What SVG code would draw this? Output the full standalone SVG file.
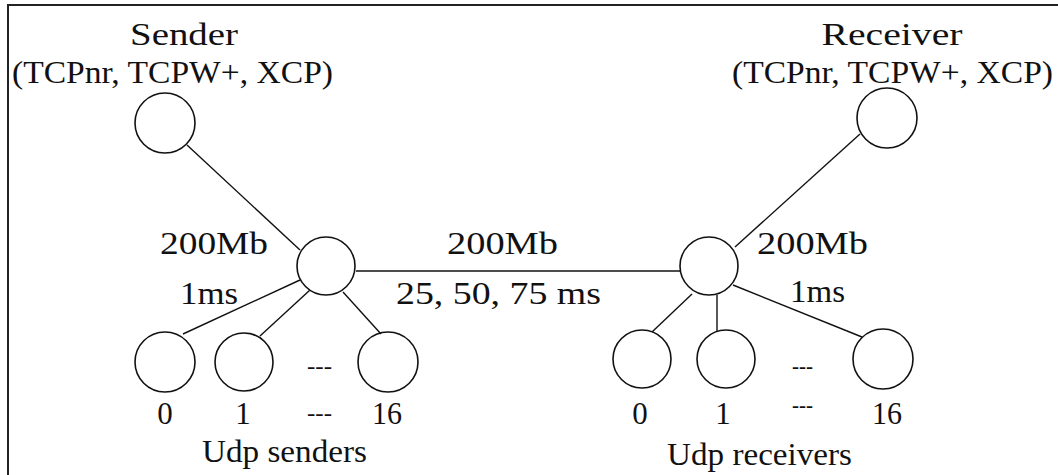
<svg xmlns="http://www.w3.org/2000/svg" width="1058" height="475" viewBox="0 0 1058 475">
  <style>
    text { font-family: "Liberation Serif", "Times New Roman", serif; fill: #111; }
    .lbl { font-size: 31px; }
    .dots { font-size: 24px; }
    .node { fill: none; stroke: #111; stroke-width: 1.6; }
    .link { stroke: #111; stroke-width: 1.4; fill: none; }
  </style>
  <rect width="1058" height="475" fill="#fff"/>
  <!-- frame (top and left edges) -->
  <path d="M8,475 V5 H1058" fill="none" stroke="#222" stroke-width="2"/>

  <g id="connectors">
    <line class="link" x1="187" y1="145" x2="300" y2="250"/>
    <line class="link" x1="356" y1="271" x2="680" y2="271"/>
    <line class="link" x1="735" y1="247" x2="860" y2="134"/>
    <line class="link" x1="300" y1="280" x2="183" y2="334"/>
    <line class="link" x1="310" y1="290" x2="260" y2="336"/>
    <line class="link" x1="343" y1="292" x2="381" y2="334"/>
    <line class="link" x1="692" y1="294" x2="652" y2="332"/>
    <line class="link" x1="717" y1="295" x2="717" y2="331"/>
    <line class="link" x1="733" y1="285" x2="862" y2="337"/>
  </g>

  <g id="sender">
    <circle class="node" cx="165" cy="123" r="30"/>
    <text class="lbl" x="184" y="45" text-anchor="middle" textLength="108" lengthAdjust="spacingAndGlyphs">Sender</text>
    <text class="lbl" x="12" y="83" textLength="321" lengthAdjust="spacingAndGlyphs">(TCPnr, TCPW+, XCP)</text>
  </g>

  <g id="receiver">
    <circle class="node" cx="887" cy="118" r="30"/>
    <text class="lbl" x="892" y="45" text-anchor="middle" textLength="141" lengthAdjust="spacingAndGlyphs">Receiver</text>
    <text class="lbl" x="732" y="83" textLength="321" lengthAdjust="spacingAndGlyphs">(TCPnr, TCPW+, XCP)</text>
  </g>

  <g id="router-left">
    <circle class="node" cx="326" cy="266" r="29"/>
    <text class="lbl" x="160" y="254" textLength="108" lengthAdjust="spacingAndGlyphs">200Mb</text>
    <text class="lbl" x="180" y="304" textLength="58" lengthAdjust="spacingAndGlyphs">1ms</text>
  </g>

  <g id="router-right">
    <circle class="node" cx="709" cy="266" r="29"/>
    <text class="lbl" x="757" y="254" textLength="111" lengthAdjust="spacingAndGlyphs">200Mb</text>
    <text class="lbl" x="790" y="302" textLength="55" lengthAdjust="spacingAndGlyphs">1ms</text>
  </g>

  <g id="bottleneck-label">
    <text class="lbl" x="447" y="254" textLength="111" lengthAdjust="spacingAndGlyphs">200Mb</text>
    <text class="lbl" x="396" y="304" textLength="205" lengthAdjust="spacingAndGlyphs">25, 50, 75 ms</text>
  </g>

  <g id="udp-senders">
    <circle class="node" cx="165" cy="362" r="30"/>
    <circle class="node" cx="244" cy="362" r="29"/>
    <circle class="node" cx="388" cy="362" r="30"/>
    <text class="dots" x="307" y="374" textLength="25" lengthAdjust="spacingAndGlyphs">---</text>
    <text class="lbl" x="165" y="424" text-anchor="middle">0</text>
    <text class="lbl" x="243" y="424" text-anchor="middle">1</text>
    <text class="dots" x="307" y="421" textLength="25" lengthAdjust="spacingAndGlyphs">---</text>
    <text class="lbl" x="387" y="424" text-anchor="middle" textLength="30" lengthAdjust="spacingAndGlyphs">16</text>
    <text class="lbl" x="202" y="462" textLength="165" lengthAdjust="spacingAndGlyphs">Udp senders</text>
  </g>

  <g id="udp-receivers">
    <circle class="node" cx="642" cy="359" r="29"/>
    <circle class="node" cx="726" cy="359" r="29"/>
    <circle class="node" cx="883" cy="359" r="30"/>
    <text class="dots" x="792" y="374" textLength="21" lengthAdjust="spacingAndGlyphs">---</text>
    <text class="lbl" x="640" y="424" text-anchor="middle">0</text>
    <text class="lbl" x="723" y="424" text-anchor="middle">1</text>
    <text class="dots" x="792" y="413" textLength="21" lengthAdjust="spacingAndGlyphs">---</text>
    <text class="lbl" x="887" y="424" text-anchor="middle" textLength="30" lengthAdjust="spacingAndGlyphs">16</text>
    <text class="lbl" x="667" y="465" textLength="185" lengthAdjust="spacingAndGlyphs">Udp receivers</text>
  </g>
</svg>
